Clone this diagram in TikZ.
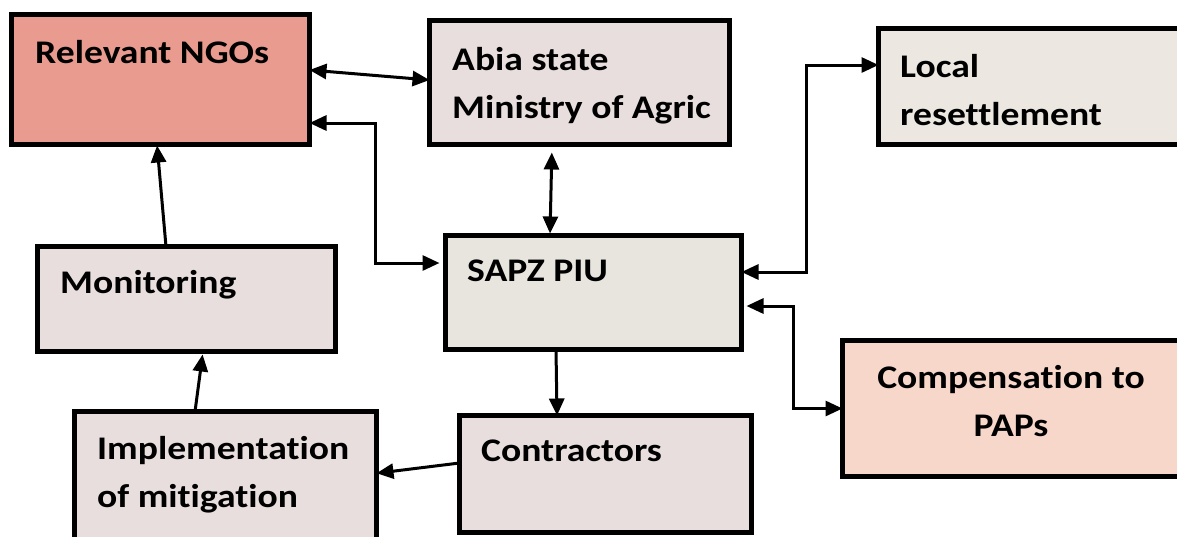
\documentclass[tikz,border=0pt]{standalone}
\usepackage{fontspec}
\setmainfont{Carlito}[FakeStretch=1.14,Ligatures=NoCommon]
\usetikzlibrary{arrows.meta,calc}
\definecolor{ngoc}{HTML}{E99B8F}
\definecolor{paleroseC}{HTML}{E8DEDD}
\definecolor{localc}{HTML}{ECE7E1}
\definecolor{sapzc}{HTML}{E8E4DE}
\definecolor{compc}{HTML}{F8D7CB}
\begin{document}
\begin{tikzpicture}[x=1pt,y=-1pt,
  boxnode/.style={draw=black,line width=5pt,rectangle,inner sep=0pt,outer sep=0pt},
  lbl/.style={anchor=base west,inner sep=0pt,align=left,font=\fontsize{33}{48}\selectfont\bfseries},
  conn/.style={line width=3pt,arrows={Triangle[length=17pt,width=15pt]-Triangle[length=17pt,width=15pt]}},
  conn1/.style={line width=3pt,-{Triangle[length=17pt,width=15pt]}}]
\useasboundingbox (0,0) rectangle (1177,536);
% boxes
\node[boxnode,fill=ngoc,minimum width=298pt,minimum height=130pt] (ngo) at (160.5,79.5) {};
\node[boxnode,fill=paleroseC,minimum width=300pt,minimum height=124pt] (abia) at (579.5,82.5) {};
\node[boxnode,fill=localc,minimum width=306pt,minimum height=116pt] (local) at (1031.5,86.5) {};
\node[boxnode,fill=paleroseC,minimum width=298pt,minimum height=105pt] (mon) at (186.5,299) {};
\node[boxnode,fill=sapzc,minimum width=296pt,minimum height=114pt] (sapz) at (593.5,292.5) {};
\node[boxnode,fill=paleroseC,minimum width=302pt,minimum height=134pt] (impl) at (225.5,478.5) {};
\node[boxnode,fill=paleroseC,minimum width=292pt,minimum height=117pt] (contr) at (605.5,474) {};
\node[boxnode,fill=compc,minimum width=343pt,minimum height=136pt] (comp) at (1014,408.5) {};
% labels (base = baseline of last line)
\node[lbl] (tngo) at (35,63) {Relevant NGOs};
\node[lbl] (tabia) at (452,118) {Abia state\\Ministry of Agric};
\node[lbl] (tlocal) at (900,125) {Local\\resettlement};
\node[lbl] (tmon) at (60,293) {Monitoring};
\node[lbl] (tsapz) at (467,281) {SAPZ PIU};
\node[lbl] (timpl) at (97,507) {Implementation\\of mitigation};
\node[lbl] (tcontr) at (481,461) {Contractors};
\node[lbl,anchor=base,align=center] (tcomp) at (1011,436) {Compensation to\\PAPs};
% connectors
\draw[conn] ([yshift=9.5pt]ngo.east) -- ([yshift=2.5pt]abia.west);
\draw[conn,shorten >=6pt] ([yshift=-43.5pt]ngo.east) -- ++(65.5,0) |- ([yshift=29.5pt]sapz.west);
\draw[conn1,shorten >=1pt] ([xshift=-20.5pt]mon.north) -- ([xshift=-3.5pt]ngo.south);
\draw[conn,shorten <=8pt,shorten >=2pt] ([xshift=-27.5pt]abia.south) -- ([xshift=-43.5pt]sapz.north);
\draw[conn] ([yshift=20.5pt]sapz.east) -- ++(64.5,0) |- ([yshift=21.5pt]local.west);
\draw[conn,shorten <=5pt] ([yshift=-13.5pt]sapz.east) -- ++(51.5,0) |- (comp.west);
\draw[conn1] ([xshift=-37.5pt]sapz.south) -- ([xshift=-48.5pt]contr.north);
\draw[conn1] ([yshift=11pt]contr.west) -- ([yshift=5.25pt]impl.east);
\draw[conn1,shorten >=3pt] ([xshift=-30.5pt]impl.north) -- ([xshift=16.5pt]mon.south);
\end{tikzpicture}
\end{document}
